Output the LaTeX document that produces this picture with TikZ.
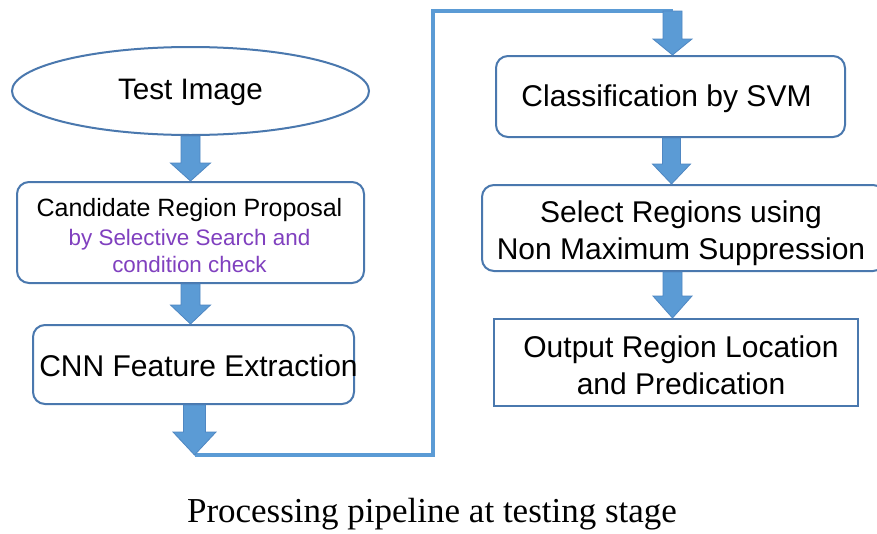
\documentclass[tikz,border=0pt]{standalone}
\usepackage{fontspec}
\setmainfont{Liberation Sans}
\newfontfamily\capfont{Liberation Serif}
\usetikzlibrary{shapes.geometric,calc}
\definecolor{edgeblue}{HTML}{4A78AE}
\definecolor{fillblue}{HTML}{5B9BD5}
\definecolor{arrowedge}{HTML}{4F87C2}
\definecolor{purp}{HTML}{8040BF}
% #1 from, #2 to, #3 shaft half width, #4 head half width, #5 head length, #6 x shift
\newcommand\blockarrow[6]{%
  \path[barrow] let \p1=(#1), \p2=(#2) in
    ({\x2+#6pt-#3pt},\y1) -- ({\x2+#6pt+#3pt},\y1) -- ({\x2+#6pt+#3pt},{\y2+#5pt})
    -- ({\x2+#6pt+#4pt},{\y2+#5pt}) -- ({\x2+#6pt},\y2) -- ({\x2+#6pt-#4pt},{\y2+#5pt})
    -- ({\x2+#6pt-#3pt},{\y2+#5pt}) -- cycle;}
\newcommand\purpline{\color{purp}\fontsize{22.4}{27}\selectfont}
\tikzset{
  box/.style={draw=edgeblue, line width=2pt, rounded corners=12pt, inner sep=0pt},
  sqbox/.style={box, rounded corners=0pt},
  oval/.style={ellipse, draw=edgeblue, line width=2pt, inner sep=0pt},
  txt/.style={inner sep=0pt, align=center, font=\fontsize{30}{37}\selectfont},
  barrow/.style={fill=fillblue, draw=arrowedge, line width=0.8pt, line join=miter},
  conn/.style={draw=fillblue, line width=3.5pt},
}
\begin{document}
\begin{tikzpicture}[x=1pt,y=-1pt]
\clip (0,0) rectangle (877,533);
\fill[white] (0,0) rectangle (877,533);
% shapes
\node[oval, minimum width=357pt, minimum height=88pt] (ti) at (190.5,91) {};
\node[box, minimum width=347pt, minimum height=101pt] (crp) at (190.5,232.5) {};
\node[box, minimum width=321pt, minimum height=79pt] (cnn) at (193.5,364.5) {};
\node[box, minimum width=349pt, minimum height=81pt] (svm) at (670.5,96.5) {};
\node[box, minimum width=403pt, minimum height=86pt] (sel) at (683.5,228) {};
\node[sqbox, minimum width=364pt, minimum height=87pt] (out) at (676,362.5) {};
% texts
\node[txt, font=\fontsize{29.6}{35}\selectfont] (tti) at ($(ti)+(0,1)$) {Test Image};
\node[txt, font=\fontsize{25}{29}\selectfont] (tcrp) at ($(crp)+(-1,3)$)
  {Candidate Region Proposal\\[0pt]\purpline by Selective Search and\\[-2pt]\purpline condition check};
\node[txt] (tcnn) at ($(cnn)+(5,1)$) {CNN Feature Extraction};
\node[txt] (tsvm) at ($(svm)+(-4,2)$) {Classification by SVM};
\node[txt] (tsel) at ($(sel)+(-2.5,5)$) {Select Regions using\\Non Maximum Suppression};
\node[txt] (tout) at ($(out)+(5,3)$) {Output Region Location\\and Predication};
% long connector
\coordinate (c1) at (194.5,455);
\coordinate (c2) at (433,455);
\coordinate (c4) at (673,11);
\draw[conn] (c1) -- (c2) |- (c4);
% block arrows
\blockarrow{ti.south}{crp.north}{9.5}{20}{18}{0}
\blockarrow{crp.south}{cnn.north}{9.5}{20}{19}{-3}
\blockarrow{cnn.south}{c1}{11}{21.5}{23}{0}
\blockarrow{c4}{svm.north}{9.5}{19.5}{16}{2}
\blockarrow{svm.south}{sel.north}{9}{19}{20}{-12}
\blockarrow{sel.south}{out.north}{9.5}{19.5}{22}{-3.5}
% caption
\node[anchor=base, font=\capfont\fontsize{35}{40}\selectfont] (cap) at (432,522)
  {Processing pipeline at testing stage};
\end{tikzpicture}
\end{document}
